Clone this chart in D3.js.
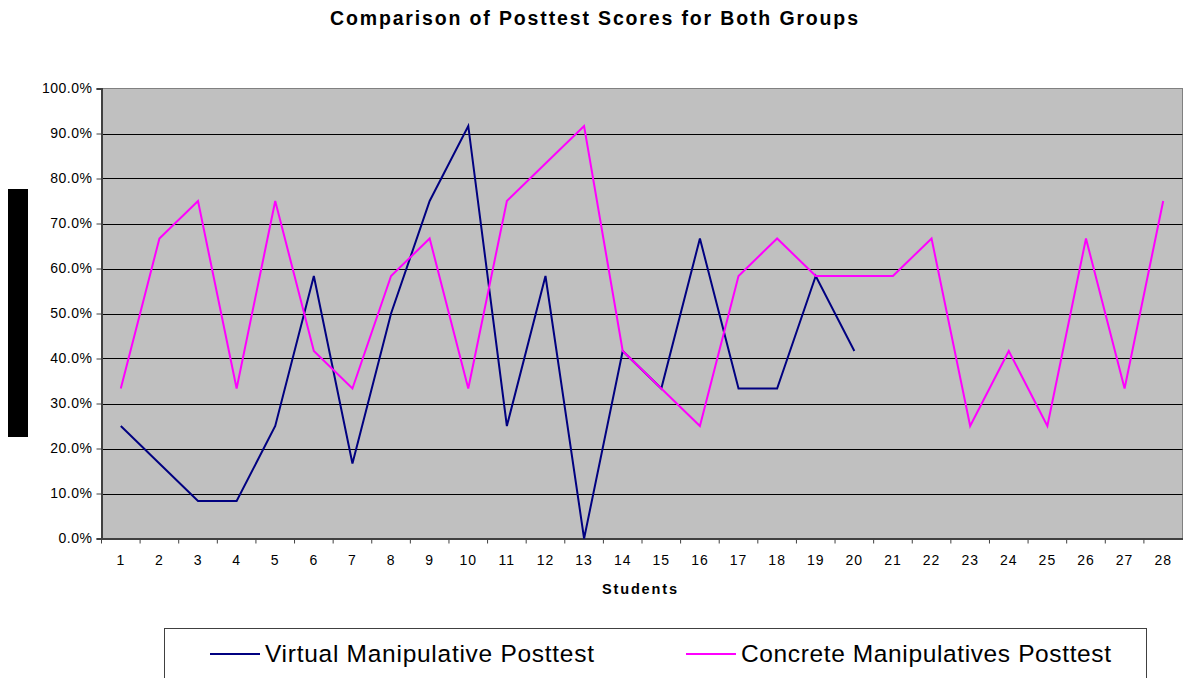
<!DOCTYPE html>
<html>
<head>
<meta charset="utf-8">
<script src="https://cdn.jsdelivr.net/npm/d3@7"></script>
<style>
  html, body { margin: 0; padding: 0; background: #fff; }
  svg { display: block; font-family: "Liberation Sans", Arial, sans-serif; }
</style>
</head>
<body>
<svg id="chart" width="1183" height="678"></svg>
<script>
const students = d3.range(1, 29).map(String);
const virtualScores = [25, 16.67, 8.33, 8.33, 25, 58.33, 16.67, 50, 75, 91.67, 25, 58.33, 0, 41.67, 33.33, 66.67, 33.33, 33.33, 58.33, 41.67];
const concreteScores = [33.33, 66.67, 75, 33.33, 75, 41.67, 33.33, 58.33, 66.67, 33.33, 75, 83.33, 91.67, 41.67, 33.33, 25, 58.33, 66.67, 58.33, 58.33, 58.33, 66.67, 25, 41.67, 25, 66.67, 33.33, 75];
const yTicks = [0, 10, 20, 30, 40, 50, 60, 70, 80, 90, 100];
const seriesNames = ["Virtual Manipulative Posttest", "Concrete Manipulatives Posttest"];
const seriesColors = ["#000080", "#FF00FF"];

const svg = d3.select("#chart");
const pL = 101.5, pR = 1182.5, pT = 88.5, pB = 538.5;

const x = d3.scaleBand().domain(students).range([pL, pR]);
const y = d3.scaleLinear().domain([0, 100]).range([pB, pT]);

// title
svg.append("text").attr("x", 330).attr("y", 25)
  .attr("font-size", 19.5).attr("font-weight", "bold")
  .attr("textLength", 528).attr("lengthAdjust", "spacing")
  .text("Comparison of Posttest Scores for Both Groups");

// plot background
svg.append("rect").attr("x", pL).attr("y", pT).attr("width", pR - pL).attr("height", pB - pT)
  .attr("fill", "#C0C0C0").attr("stroke", "#808080").attr("stroke-width", 1);

// gridlines
svg.append("g").selectAll("line").data(yTicks.filter(d => d > 0 && d < 100)).join("line")
  .attr("x1", pL).attr("x2", pR).attr("y1", d => Math.round(y(d)) + 0.5).attr("y2", d => Math.round(y(d)) + 0.5)
  .attr("stroke", "#000").attr("stroke-width", 1);

// y axis
const yAxis = d3.axisLeft(y).tickValues(yTicks).tickSize(5).tickFormat(d => d.toFixed(1) + "%");
const ga = svg.append("g").attr("transform", `translate(${pL},0)`).call(yAxis);
ga.select(".domain").attr("stroke", "#404040").attr("stroke-width", 2);
ga.selectAll(".tick line").attr("stroke", "#404040");
ga.selectAll(".tick text").attr("font-size", 14).attr("fill", "#000").attr("x", -9)
  .attr("letter-spacing", 0.5).attr("font-family", "Liberation Sans, Arial, sans-serif");

// x axis
const xAxis = d3.axisBottom(x).tickSize(0).tickPadding(17);
const gx = svg.append("g").attr("transform", `translate(0,${pB})`).call(xAxis);
gx.select(".domain").attr("stroke", "#404040").attr("stroke-width", 2);
gx.selectAll(".tick text").attr("font-size", 14).attr("fill", "#000").attr("letter-spacing", 1)
  .attr("font-family", "Liberation Sans, Arial, sans-serif");
// tick marks between categories
svg.append("g").selectAll("line").data(students).join("line")
  .attr("x1", d => x(d)).attr("x2", d => x(d)).attr("y1", pB).attr("y2", pB + 5)
  .attr("stroke", "#404040").attr("stroke-width", 1);

// x title
svg.append("text").attr("x", 602).attr("y", 594)
  .attr("font-size", 14.5).attr("font-weight", "bold")
  .attr("textLength", 75).attr("lengthAdjust", "spacing").text("Students");

// redacted y title block
svg.append("rect").attr("x", 8).attr("y", 189).attr("width", 20).attr("height", 248).attr("fill", "#000");

// lines
const line = d3.line().x((d, i) => x(students[i]) + x.bandwidth() / 2).y(d => y(d));
[virtualScores, concreteScores].forEach((vals, k) => {
  svg.append("path").datum(vals).attr("d", line).attr("fill", "none")
    .attr("stroke", seriesColors[k]).attr("stroke-width", 2).attr("stroke-linejoin", "miter");
});

// legend
svg.append("rect").attr("x", 164.5).attr("y", 628.5).attr("width", 982).attr("height", 70)
  .attr("fill", "#fff").attr("stroke", "#404040").attr("stroke-width", 1);
const legX = [210, 686];
const legW = [329, 370];
seriesNames.forEach((name, k) => {
  svg.append("line").attr("x1", legX[k]).attr("x2", legX[k] + 50).attr("y1", 654).attr("y2", 654)
    .attr("stroke", seriesColors[k]).attr("stroke-width", 2);
  svg.append("text").attr("x", legX[k] + 55).attr("y", 662).attr("font-size", 24.5).attr("fill", "#000")
    .attr("textLength", legW[k]).attr("lengthAdjust", "spacing").text(name);
});
</script>
</body>
</html>
